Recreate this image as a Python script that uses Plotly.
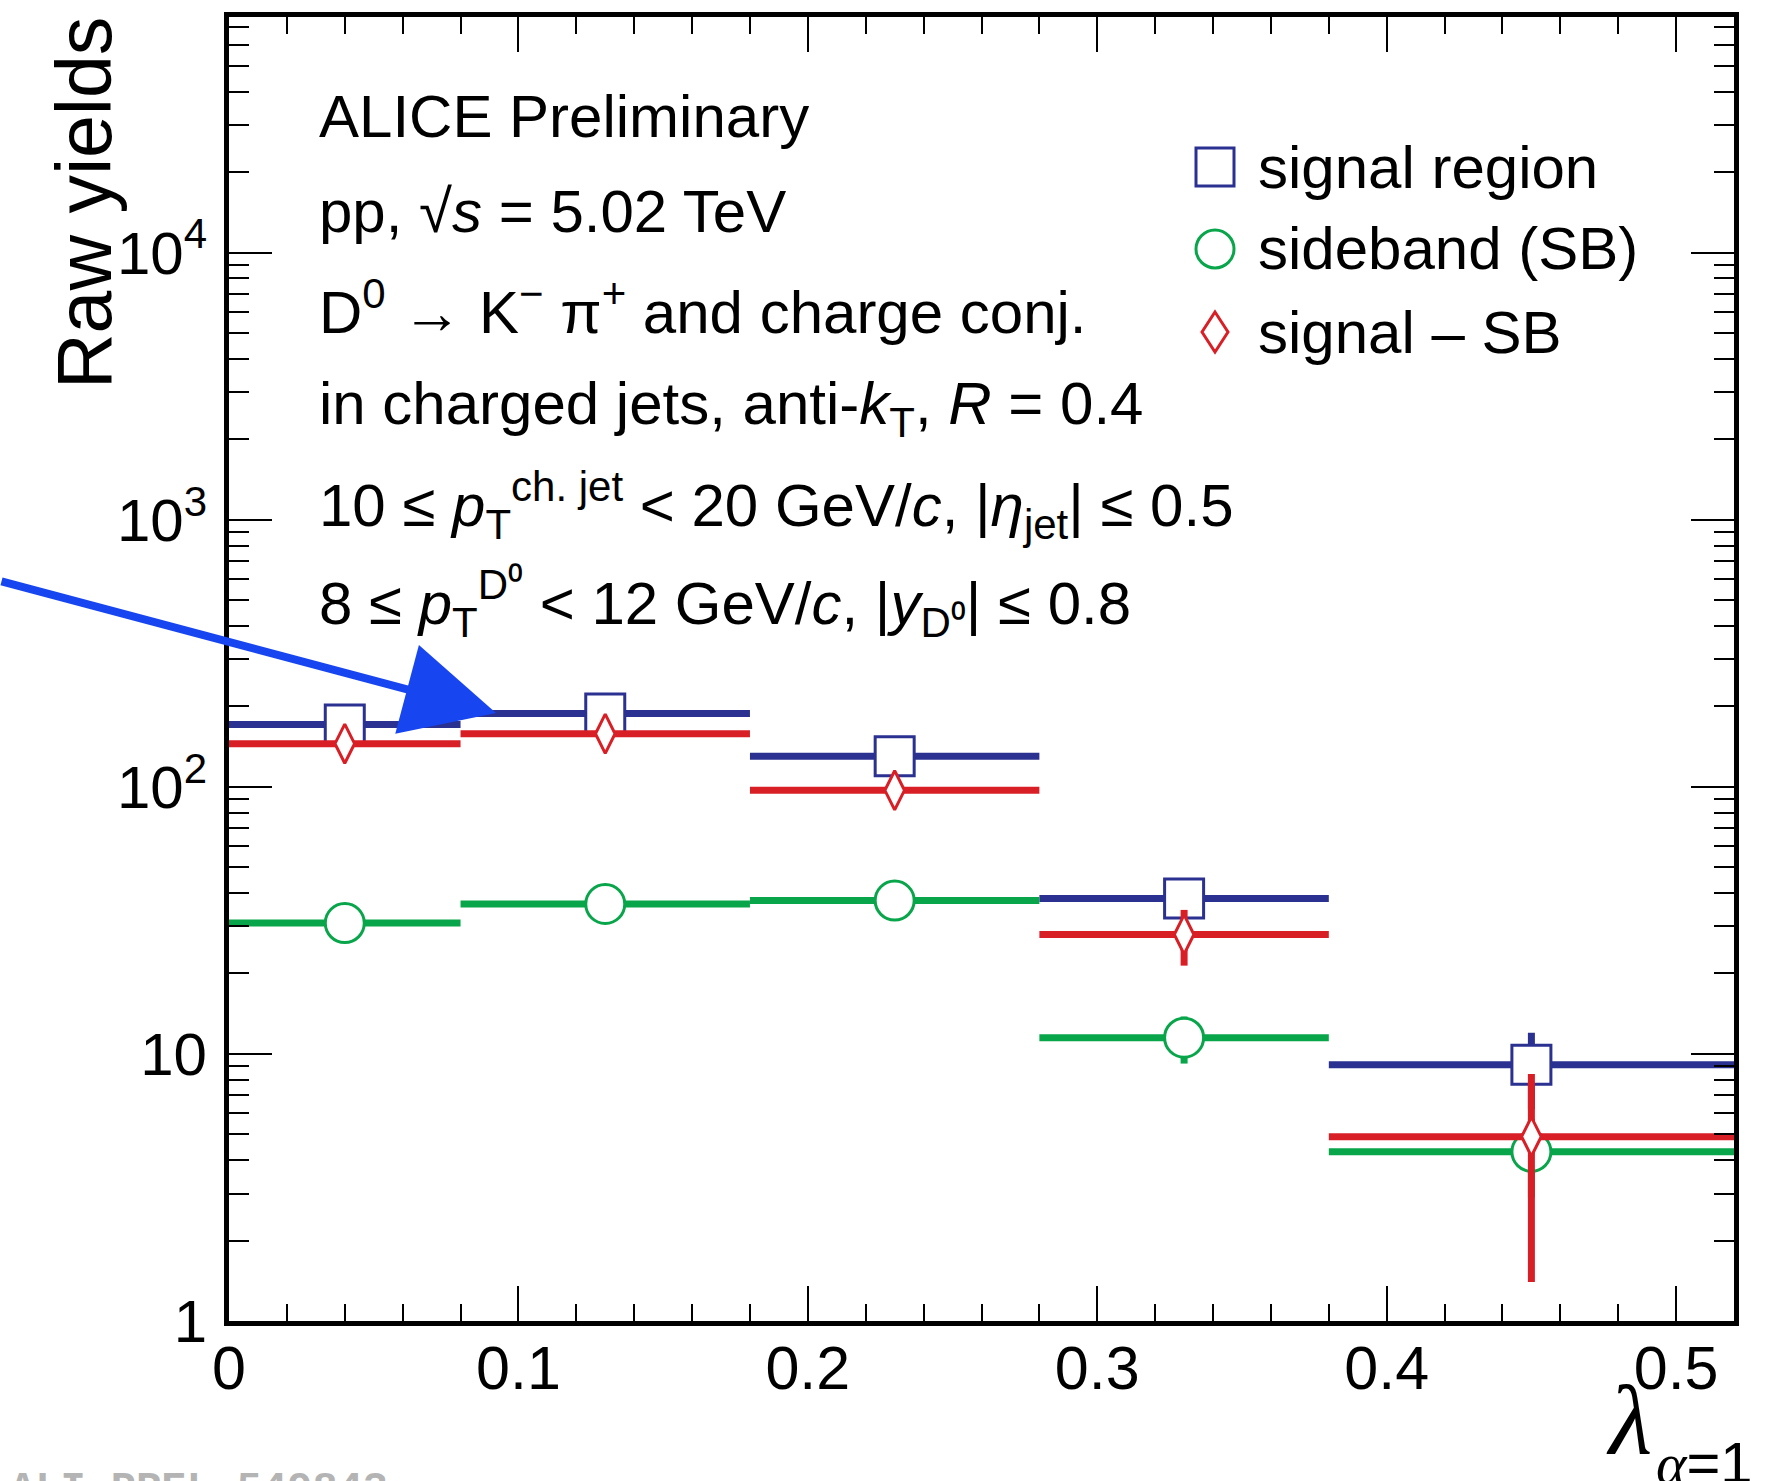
import plotly.graph_objects as go

# ---------------- data ----------------
bin_lo = [0.0, 0.08, 0.18, 0.28, 0.38]
bin_hi = [0.08, 0.18, 0.28, 0.38, 0.52]
x_centers = [0.04, 0.13, 0.23, 0.33, 0.45]

signal = [171, 188, 130, 38.2, 9.1]
signal_err = [13, 14, 11.5, 6.2, 2.9]
sideband = [30.9, 36.4, 37.5, 11.5, 4.3]
sideband_err = [2.6, 2.9, 2.9, 2.3, 1.4]
sig_minus_sb = [145, 158, 97, 28, 4.9]
sig_minus_sb_err = [13.5, 14.5, 12, 6.6, 3.5]

ytick_vals = [1, 10, 100, 1000, 10000]
ytick_text = ["1", "10", "10<sup>2</sup>", "10<sup>3</sup>", "10<sup>4</sup>"]
yminor_vals = [m * 10 ** e for e in range(0, 5) for m in range(2, 10)]

legend_labels = ["signal region", "sideband (SB)", "signal \u2013 SB"]
info_lines = [
    "ALICE Preliminary",
    "pp, \u221a<i>s</i> = 5.02 TeV",
    "D<sup>0</sup> \u2192 K<sup>\u2212</sup> \u03c0<sup>+</sup> and charge conj.",
    "in charged jets, anti-<i>k</i><sub>T</sub>, <i>R</i> = 0.4",
    "10 \u2264 <i>p</i><sub>T</sub><sup>ch. jet</sup> &lt; 20 GeV/<i>c</i>, |<i>\u03b7</i><sub>jet</sub>| \u2264 0.5",
    "8 \u2264 <i>p</i><sub>T</sub><sup>D\u2070</sup> &lt; 12 GeV/<i>c</i>, |<i>y</i><sub>D\u2070</sub>| \u2264 0.8",
]

BLUE = "#2b3190"
GREEN = "#08a54a"
RED = "#d91f26"

# ---------------- geometry helpers (page pixels) ----------------
W, H = 1769, 1481
L, R, T, B = 229, 35, 17, 160
PW, PH = W - L - R, H - T - B


def px(xp):
    return (xp - L) / PW


def py(yp):
    return 1 - (yp - T) / PH


FONT = "Liberation Sans, Arial, Helvetica, sans-serif"
SERIF = "Liberation Serif, Times New Roman, serif"

fig = go.Figure()

series = [
    ("signal region", signal, signal_err, BLUE, "square", 39),
    ("sideband (SB)", sideband, sideband_err, GREEN, "circle", 39),
    ("signal - SB", sig_minus_sb, sig_minus_sb_err, RED, "diamond-tall", 28),
]

for name, vals, errs, color, sym, size in series:
    fig.add_trace(
        go.Scatter(
            x=x_centers,
            y=vals,
            mode="markers",
            name=name,
            showlegend=False,
            marker=dict(symbol=sym, size=size, color="white",
                        line=dict(color=color, width=3)),
            error_x=dict(type="data", symmetric=False,
                         array=[h - c for h, c in zip(bin_hi, x_centers)],
                         arrayminus=[c - l for l, c in zip(bin_lo, x_centers)],
                         color=color, thickness=7, width=0),
            error_y=dict(type="data", array=errs, color=color,
                         thickness=7, width=0),
            cliponaxis=True,
        )
    )

annotations = []

# info text block
info_y = [116, 212, 308, 408, 505, 603]
for txt, yy in zip(info_lines, info_y):
    annotations.append(dict(
        text=txt, x=px(317), y=py(yy), xref="paper", yref="paper",
        xanchor="left", yanchor="middle", showarrow=False,
        font=dict(family=FONT, size=60, color="black")))

# legend texts
leg_y = [167, 249, 332]
for txt, yy in zip(legend_labels, leg_y):
    annotations.append(dict(
        text=txt, x=px(1256), y=py(yy), xref="paper", yref="paper",
        xanchor="left", yanchor="middle", showarrow=False,
        font=dict(family=FONT, size=60, color="black")))

# y title
annotations.append(dict(
    text="Raw yields", x=px(84), y=py(15), xref="paper", yref="paper",
    xanchor="center", yanchor="top", textangle=-90, showarrow=False,
    font=dict(family=FONT, size=77, color="black")))

# x title: lambda + subscript
annotations.append(dict(
    text="<i>\u03bb</i>", x=px(1629), y=py(1420),
    xref="paper", yref="paper", xanchor="center", yanchor="middle",
    showarrow=False, font=dict(family=SERIF, size=100, color="black")))
annotations.append(dict(
    text="<span style='font-family:Liberation Serif'><i>\u03b1</i></span>=1",
    x=px(1654), y=py(1463),
    xref="paper", yref="paper", xanchor="left", yanchor="middle",
    showarrow=False, font=dict(family=FONT, size=58, color="black")))

# watermark
annotations.append(dict(
    text="<b>ALI-PREL-549843</b>", x=px(8), y=py(1464), xref="paper",
    yref="paper", xanchor="left", yanchor="top", showarrow=False,
    font=dict(family="Liberation Mono, Courier New, monospace", size=42,
              color="#b4b4b4")))

# hand-drawn arrow
annotations.append(dict(
    text="", x=px(496), y=py(713), xref="paper", yref="paper",
    ax=-496, ay=-132, showarrow=True, arrowhead=2, arrowsize=2.3,
    arrowwidth=8, arrowcolor="#1746f0"))

shapes = []
# legend markers
shapes.append(dict(type="rect", xref="paper", yref="paper",
                   xsizemode="pixel", ysizemode="pixel",
                   xanchor=px(1215), yanchor=py(leg_y[0]),
                   x0=-19, x1=19, y0=-19, y1=19,
                   line=dict(color=BLUE, width=3), fillcolor="white"))
shapes.append(dict(type="circle", xref="paper", yref="paper",
                   xsizemode="pixel", ysizemode="pixel",
                   xanchor=px(1215), yanchor=py(leg_y[1]),
                   x0=-19, x1=19, y0=-19, y1=19,
                   line=dict(color=GREEN, width=3), fillcolor="white"))
shapes.append(dict(type="path", xref="paper", yref="paper",
                   xsizemode="pixel", ysizemode="pixel",
                   xanchor=px(1215), yanchor=py(leg_y[2]),
                   path="M 0 20 L 13 0 L 0 -20 L -13 0 Z",
                   line=dict(color=RED, width=3), fillcolor="white"))

fig.update_layout(
    width=W, height=H,
    margin=dict(l=L, r=R, t=T, b=B),
    paper_bgcolor="white", plot_bgcolor="white",
    annotations=annotations, shapes=shapes,
    showlegend=False,
    xaxis=dict(
        range=[0, 0.52], tickmode="linear", tick0=0, dtick=0.1,
        ticks="inside", ticklen=35, tickwidth=2, tickcolor="black",
        showline=True, linewidth=5, linecolor="black", mirror="ticks",
        showgrid=False, zeroline=False, ticklabelstandoff=-10,
        tickfont=dict(family=FONT, size=61, color="black"),
        minor=dict(dtick=0.02, tick0=0, ticks="inside", ticklen=17,
                   tickwidth=2, tickcolor="black", showgrid=False),
    ),
    yaxis=dict(
        type="log", range=[0, 4.882],
        tickmode="array", tickvals=ytick_vals, ticktext=ytick_text,
        ticks="inside", ticklen=43, tickwidth=2, tickcolor="black",
        showline=True, linewidth=5, linecolor="black", mirror="ticks",
        showgrid=False, zeroline=False, ticklabelstandoff=5,
        tickfont=dict(family=FONT, size=60, color="black"),
        minor=dict(tickmode="array", tickvals=yminor_vals, ticks="inside",
                   ticklen=20, tickwidth=2, tickcolor="black",
                   showgrid=False),
    ),
)

fig.write_html(
    "out.html",
    config={"displayModeBar": False},
    post_script=["document.body.style.margin = '0px';"],
)
